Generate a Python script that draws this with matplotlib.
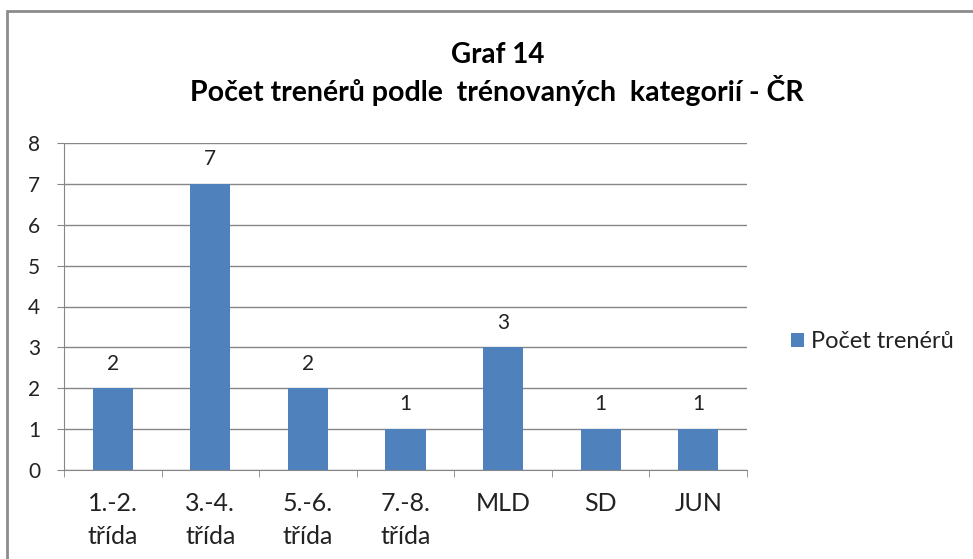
import matplotlib.pyplot as plt
import matplotlib.patches as patches

plt.rcParams['font.family'] = ['Lato', 'DejaVu Sans']

categories = ['1.-2.\ntřída', '3.-4.\ntřída', '5.-6.\ntřída', '7.-8.\ntřída', 'MLD', 'SD', 'JUN']
pocet_treneru = [2, 7, 2, 1, 3, 1, 1]
yticks = [0, 1, 2, 3, 4, 5, 6, 7, 8]

bar_color = '#4F81BD'
grid_color = '#868686'

fig = plt.figure(figsize=(9.73, 5.59), dpi=100)

# outer chart border (cut by the image edge on the right and bottom)
border = patches.Rectangle((7 / 973, -0.05), 1.1, (559 - 11) / 559 + 0.05,
                           transform=fig.transFigure, fill=False,
                           edgecolor='#8C8C8C', linewidth=2)
fig.patches.append(border)

ax = fig.add_axes([64 / 973, 89 / 559, 683 / 973, 327 / 559])

x = list(range(len(categories)))
bars = ax.bar(x, pocet_treneru, width=0.41, color=bar_color, zorder=3,
              label='Počet trenérů')

for xi, v in zip(x, pocet_treneru):
    ax.annotate(str(v), (xi, v), xytext=(0, 13.5), textcoords='offset points',
                ha='center', va='baseline', fontsize=15, color='#222222')

ax.set_xlim(-0.5, len(categories) - 0.5)
ax.set_ylim(0, 8)
ax.set_yticks(yticks)
ax.yaxis.grid(True, color=grid_color, linewidth=1)
ax.set_axisbelow(True)

ax.set_xticks(x)
ax.set_xticklabels(categories, fontsize=18, linespacing=1.5, color='#222222')
ax.set_xticks([i - 0.5 for i in range(len(categories) + 1)], minor=True)
ax.tick_params(axis='x', which='major', length=0, pad=16)
ax.tick_params(axis='x', which='minor', length=5, color=grid_color)
ax.tick_params(axis='y', length=5, color=grid_color, labelsize=15, pad=12,
               labelcolor='#222222')

for s in ['top', 'right']:
    ax.spines[s].set_visible(False)
for s in ['left', 'bottom']:
    ax.spines[s].set_color(grid_color)

fig.text(498 / 973, 1 - 63 / 559, 'Graf 14', ha='center', va='baseline',
         fontsize=20, fontweight='bold')
fig.text(497 / 973, 1 - 101 / 559, 'Počet trenérů podle  trénovaných  kategorií - ČR',
         ha='center', va='baseline', fontsize=20.5, fontweight='bold')

fig.legend(handles=[bars], loc='center left', bbox_to_anchor=(770 / 973, 1 - 342 / 559),
           frameon=False, fontsize=17, handlelength=0.55, handleheight=0.55,
           handletextpad=0.3, labelcolor='#222222')

fig.savefig('out.png', dpi=100)
